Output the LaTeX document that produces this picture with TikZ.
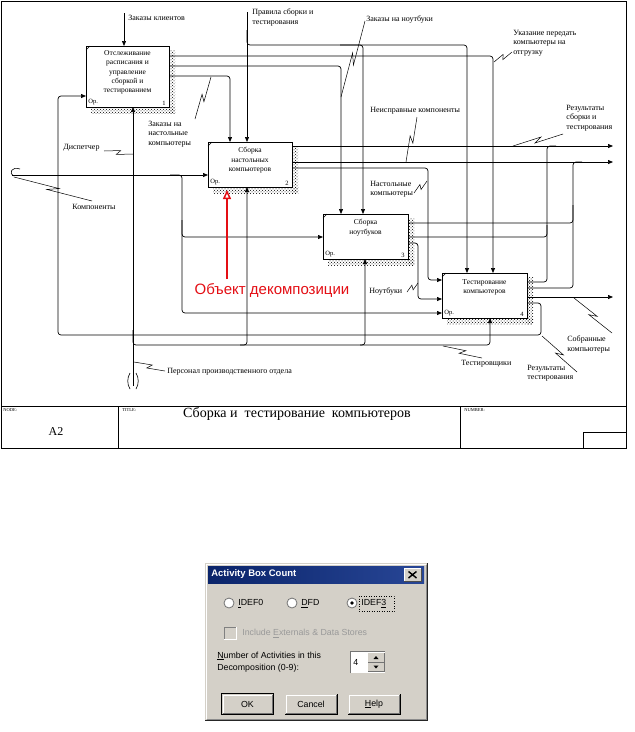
\documentclass[tikz,border=0pt]{standalone}
\usepackage{fontspec}
\setmainfont{Liberation Serif}
\newfontfamily\sansf{Liberation Sans}
\usetikzlibrary{arrows.meta,calc,patterns}
\definecolor{dlg}{RGB}{212,208,200}
\definecolor{navyb}{RGB}{10,36,106}
\definecolor{tbr}{RGB}{40,70,150}
\definecolor{redx}{RGB}{228,14,20}
\newcommand\sqg[2]{\draw[sq] #1 -- ($#1!0.57!#2!2.2pt!90:#2$) -- ($#1!0.43!#2!2.2pt!-90:#2$) -- #2;}
\begin{document}
\begin{tikzpicture}[x=1pt,y=-1pt,line width=0.7pt,
  arr/.style={-{Triangle[length=5pt,width=4pt]}},
  rc/.style={rounded corners=3pt},
  sq/.style={line width=0.5pt},
  box/.style={draw,line width=0.9pt,fill=white,inner sep=0pt,outer sep=0pt},
  shd/.style={pattern=crosshatch dots,pattern color=black},
  btxt/.style={font=\fontsize{7.5}{9.4}\selectfont,align=center,inner sep=0pt},
  num/.style={font=\fontsize{6.5}{7}\selectfont,inner sep=0pt},
  lbl/.style={font=\fontsize{8}{9.6}\selectfont,inner sep=0pt,align=left,anchor=north west},
  tiny/.style={font=\fontsize{4.5}{5}\selectfont,inner sep=0pt,anchor=north west},
  dtx/.style={font=\sansf\fontsize{8.8}{11}\selectfont,inner sep=0pt,anchor=west},
  btn/.style={font=\sansf\fontsize{8.8}{11}\selectfont,inner sep=0pt}]
\useasboundingbox (0,0) rectangle (635,732);
\fill[white] (0,0) rectangle (635,732);

% frame and title block
\draw[line width=1pt] (1,1) rectangle (626,448);
\draw (1,406) -- (626,406);
\draw (118,406) -- (118,448);
\draw (460,406) -- (460,448);
\draw (583,432) rectangle (626,448);
\node[tiny] (tnode) at (3,408) {NODE:};
\node[tiny] (ttitle) at (122,408) {TITLE:};
\node[tiny] (tnum) at (464,408) {NUMBER:};
\node[font=\fontsize{12}{12}\selectfont,inner sep=0pt] (tA2) at (56,432) {A2};
\node[font=\fontsize{14}{14}\selectfont,inner sep=0pt] (ttl) at (297,414) {Сборка и\enspace тестирование\enspace компьютеров};

% shadows
\fill[shd] (169,50) rectangle (175,113);
\fill[shd] (91,107) rectangle (175,113);
\fill[shd] (292,146) rectangle (298,193);
\fill[shd] (213,187) rectangle (298,193);
\fill[shd] (408,218) rectangle (414,265);
\fill[shd] (328,259) rectangle (414,265);
\fill[shd] (527,277) rectangle (533,324);
\fill[shd] (447,318) rectangle (533,324);

% boxes
\node[box,minimum width=83pt,minimum height=61pt] (b1) at (127.5,76.5) {};
\node[box,minimum width=84pt,minimum height=45pt] (b2) at (250,164.5) {};
\node[box,minimum width=85pt,minimum height=45pt] (b3) at (365.5,236.5) {};
\node[box,minimum width=85pt,minimum height=45pt] (b4) at (484.5,295.5) {};
\foreach \b/\n in {b1/1,b2/2,b3/3,b4/4}{
  \draw[line width=0.5pt] ($(\b.north west)+(0,4)$) -- ++(4,-4);
  \node[num,anchor=south west] at ($(\b.south west)+(2,-1.5)$) {Ор.};
  \node[num,anchor=south east] at ($(\b.south east)+(-3,-1.5)$) {\n};
}
\node[btxt,anchor=north] (t1) at ($(b1.north)+(0,4)$) {Отслеживание\\расписания и\\управление\\сборкой и\\тестированием};
\node[btxt,anchor=north] (t2) at ($(b2.north)+(0,5)$) {Сборка\\настольных\\компьютеров};
\node[btxt,anchor=north] (t3) at ($(b3.north)+(0,5)$) {Сборка\\ноутбуков};
\node[btxt,anchor=north] (t4) at ($(b4.north)+(0,6)$) {Тестирование\\компьютеров};

% controls
\coordinate (zk) at (124,13);
\draw[arr] (zk) -- (zk |- b1.north);
\coordinate (pr) at (247,12);
\draw[arr] (pr) -- (pr |- b2.north);
\draw[arr,rc] (247,30) |- (467,45) -- (467,45 |- b4.north);
\draw[arr,rc] (340,45) -| (363,45 |- b3.north);

% outputs of box 1
\draw[arr,rc] (b1.east |- 0,56) -| (493,56 |- b4.north);
\draw[arr,rc] (b1.east |- 0,66) -| (341,66 |- b3.north);
\draw[arr,rc] (b1.east |- 0,76) -| (230,76 |- b2.north);

% components input
\coordinate (kin) at (12,175);
\draw[arr] (kin) -- (kin -| b2.west);
\draw[arr,rc] (170,175) -| (182,313) -- (182,313 -| b4.west);
\draw[arr,rc] (182,220) |- (182,237 -| b3.west);
\draw[line width=0.6pt] (20,169) .. controls (12,166) and (8,173) .. (14,176);

% mechanisms
\coordinate (mech) at (133,386);
\draw[arr] (mech) -- (mech |- b1.south);
\draw[arr,rc] (133,330) |- (247,345) -- (247,345 |- b2.south);
\draw[arr,rc] (240,345) -| (365,345 |- b3.south);
\draw[arr,rc] (360,345) -| (490,345 |- b4.south);
\draw[line width=0.6pt] (130,373) .. controls (127,378) and (127,384) .. (130,389);
\draw[line width=0.6pt] (136,373) .. controls (139,378) and (139,384) .. (136,389);

% feedback loop
\draw[arr,rc] (b4.east |- 0,303) -| (541,335) -| (58,96) -- (58,96 -| b1.west);

% outputs of box 2
\coordinate (o1) at (613,146);
\coordinate (o2) at (613,162);
\coordinate (o3) at (613,297);
\draw[arr] (b2.east |- 0,146) -- (o1);
\draw[arr] (b2.east |- 0,162) -- (o2);
\draw[arr,rc] (b2.east |- 0,168) -| (428,280) -- (428,280 -| b4.west);
% outputs of box 3
\draw[rc] (b3.east |- 0,223) -| (573,205);
\draw[rc] (b3.east |- 0,237) -| (547,225);
\draw[arr,rc] (b3.east |- 0,243) -| (418,299) -- (418,299 -| b4.west);
% outputs of box 4
\draw[rc] (b4.east |- 0,282) -| (547,146) -- (556,146);
\draw[rc] (b4.east |- 0,288) -| (573,162) -- (582,162);
\draw[arr] (b4.east |- 0,297) -- (o3);

% labels
\node[lbl] (l1) at (128,15) {Заказы клиентов};
\node[lbl] (l2) at (252,8.5) {Правила сборки и\\тестирования};
\node[lbl] (l3) at (366,15.5) {Заказы на ноутбуки};
\node[lbl] (l4) at (513,29.5) {Указание передать\\компьютеры на\\отгрузку};
\node[lbl] (l5) at (148,120.5) {Заказы на\\настольные\\компьютеры};
\node[lbl] (l6) at (63,143.5) {Диспетчер};
\node[lbl] (l7) at (72,203.5) {Компоненты};
\node[lbl] (l8) at (370,106.5) {Неисправные компоненты};
\node[lbl] (l9) at (566,104.5) {Результаты\\сборки и\\тестирования};
\node[lbl] (l10) at (370,180.5) {Настольные\\компьютеры};
\node[lbl] (l11) at (369,287.5) {Ноутбуки};
\node[lbl] (l12) at (461,359.5) {Тестировщики};
\node[lbl] (l13) at (527,364.5) {Результаты\\тестирования};
\node[lbl] (l14) at (567,335.5) {Собранные\\компьютеры};
\node[lbl] (l15) at (167,367.5) {Персонал производственного отдела};

\sqg{(341,97)}{(365,21)}
\sqg{(494,62)}{(512,52)}
\sqg{(211,77)}{(195,119)}
\sqg{(104,151)}{(133,154)}
\sqg{(14,177)}{(92,201)}
\sqg{(406,162)}{(417,117)}
\sqg{(513,146)}{(563,134)}
\sqg{(414,193)}{(427,181)}
\sqg{(407,292)}{(418,283)}
\sqg{(443,346)}{(482,358)}
\sqg{(542,336)}{(577,372)}
\sqg{(574,298)}{(612,333)}
\sqg{(134,362)}{(165,371)}

% red annotation
\draw[redx,line width=1.5pt,-{Triangle[open,length=9pt,width=8pt,line width=1.5pt]}] (227,279) -- (227,190);
\node[font=\sansf\fontsize{15}{15}\selectfont,text=redx,inner sep=0pt] (dec) at (272,290) {Объект декомпозиции};

% dialog
\fill[dlg] (205,563) rectangle (427,720);
\draw[line width=0.8pt,white] (206,719) -- (206,564) -- (426,564);
\draw[line width=0.8pt,black!45] (206.5,719) -- (426,719) -- (426,564.5);
\draw[line width=0.8pt,black!85] (205,720) -- (427,720) -- (427,563);
\shade[left color=navyb,right color=tbr] (208,566) rectangle (424,583);
\node[anchor=west,text=white,font=\sansf\bfseries\fontsize{9.5}{10}\selectfont,inner sep=0pt] (dtitle) at (211,574.5) {Activity Box Count};
\fill[dlg] (404,568.5) rectangle (421,581);
\draw[white,line width=0.7pt] (404,581) -- (404,568.5) -- (421,568.5);
\draw[black!70,line width=0.7pt] (404,581) -- (421,581) -- (421,568.5);
\draw[line width=1.4pt] (408.5,571.5) -- (416.5,578) (416.5,571.5) -- (408.5,578);

\foreach \cx in {229,292,352}{
  \filldraw[fill=white,draw=black!55,line width=0.8pt] (\cx,603) circle[radius=5];
}
\fill (352,603) circle[radius=1.8];
\node[dtx] (r1) at (238,603.5) {\underline{I}DEF0};
\node[dtx] (r2) at (301,603.5) {\underline{D}FD};
\node[dtx] (r3) at (361,603.5) {IDEF\underline{3}};
\draw[dotted,line width=0.5pt] (359,596) rectangle (394,611);

\draw[black!50,line width=0.8pt] (224,639) -- (224,627) -- (236,627);
\draw[white,line width=0.8pt] (224,639) -- (236,639) -- (236,627);
\node[dtx,text=black!40] (chk) at (242,633.5) {Include \underline{E}xternals \& Data Stores};

\node[dtx] (n1) at (217,656) {\underline{N}umber of Activities in this};
\node[dtx] (n2) at (217,668) {Decomposition (0-9):};
\fill[white] (350,651) rectangle (385,673);
\draw[black!55,line width=0.8pt] (350,673) -- (350,651) -- (385,651);
\node[dtx] (n4) at (353,662) {4};
\fill[dlg] (368,653) rectangle (384,662);
\fill[dlg] (368,662.5) rectangle (384,671.5);
\draw[black!55,line width=0.5pt] (368,662) -- (384,662) -- (384,653);
\draw[black!55,line width=0.5pt] (368,671.5) -- (384,671.5) -- (384,662.5);
\fill (376,656) -- (373.5,659) -- (378.5,659) -- cycle;
\fill (376,668.5) -- (373.5,665.5) -- (378.5,665.5) -- cycle;

\foreach \xa/\xb/\t in {222/273/OK,285/337/Cancel,348/400/\underline{H}elp}{
  \fill[dlg] (\xa,694) rectangle (\xb,714);
  \draw[white,line width=0.8pt] (\xa+1,713) -- (\xa+1,695) -- (\xb-1,695);
  \draw[black!55,line width=0.8pt] (\xa+1,713) -- (\xb-1,713) -- (\xb-1,695);
  \draw[black,line width=0.6pt] (\xa,714) -- (\xb,714) -- (\xb,694);
  \node[btn] at ({(\xa+\xb)/2},704) {\t};
}
\draw[black,line width=0.8pt] (221.5,693.5) rectangle (273.5,714.5);
\end{tikzpicture}
\end{document}
